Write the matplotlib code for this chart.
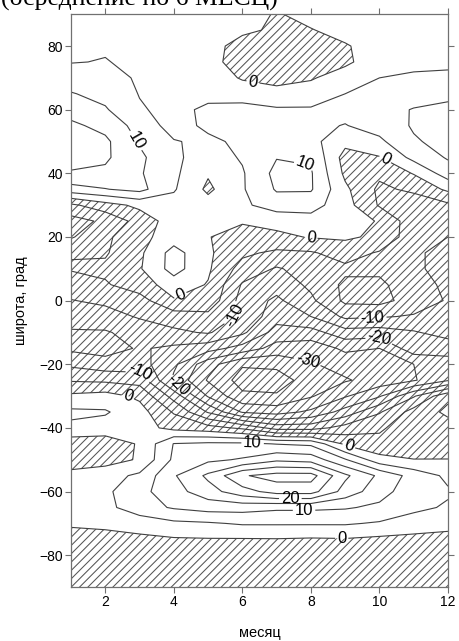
import numpy as np
import matplotlib
matplotlib.use('Agg')
import matplotlib.pyplot as plt

plt.rcParams['font.family'] = ['Liberation Sans', 'DejaVu Sans']
plt.rcParams['hatch.color'] = '#555555'
plt.rcParams['hatch.linewidth'] = 0.75

months = np.arange(1, 13)
lats = np.arange(90, -91, -5)

# anomaly values, rows = latitude 90 .. -90, cols = months 1..12
vals = [
    [3, 3, 3, 3, 3, 2.5, -0.5, 2, 3, 3, 3, 3],                          # 90
    [4, 4, 4, 3, 2.5, 1, -0.8, -0.3, 2, 3, 3, 3],                       # 85
    [4, 4.5, 4, 3, 2, -2, -3, -3, -0.5, 2.5, 3, 3],                     # 80
    [4.8, 5.2, 4, 3, 1.5, -2, -3, -3, -1, 3, 4, 4],                     # 75
    [7.5, 6.5, 4.5, 3.5, 3, -0.5, -1, -0.5, 2.5, 5, 5.6, 6],            # 70
    [10.3, 8.5, 4.8, 3.5, 3.5, 3, 1, 2.5, 5, 6.5, 7.5, 8.5],            # 65
    [13, 10.5, 5.5, 3.5, 6, 6.5, 5.7, 5.5, 6.5, 8, 10.3, 11.5],         # 60
    [16, 13.5, 8, 3, 6, 7, 7.5, 6, 4.8, 7, 10.5, 12.5],                 # 55
    [17, 16, 9.5, 5.3, 4, 6, 8, 6.5, 1.5, 4, 9.5, 11.5],                # 50
    [17, 15.8, 11, 6, 2.5, 5.5, 9.8, 9.5, -2, -0.3, 6.5, 10.5],         # 45
    [14.5, 14, 10.5, 6, 0.5, 4.5, 11.5, 10.5, -1, -4, 0.3, 7.5],        # 40
    [8, 9.8, 11.5, 5.5, -1, 4.5, 10.5, 10.5, 1, -6, -4, 1],             # 35
    [-6, -2, 1.2, 3, 2, 4, 7.5, 7, 2, -5.5, -8, -6],                    # 30
    [-12, -9, -3, 2.5, 0.5, 0.5, 1.5, 3, 3, -0.5, -8, -9],              # 25
    [-10.5, -6, -1.5, 2.5, 0.2, -2, -1, 0.3, 0.8, -1, -8, -10],         # 20
    [-5.3, -5.5, -1, 7, 0.8, -4, -6, -5.5, -3, -5.5, -9, -12],          # 15
    [-4.6, -4, -0.5, 7, 0.7, -7, -10.5, -8, -6, -6, -9, -12],           # 10
    [-7.5, -5.5, -2.5, 2.5, -0.3, -10.5, -13, -9, -4, -4, -8, -11],     # 5
    [-10.2, -9, -7, -0.5, -1.5, -12, -16, -11, -4, -3.5, -7, -10.5],    # 0
    [-13, -12, -9.5, -7.5, -6.5, -11, -18, -15, -9, -9.5, -10.5, -11],  # -5
    [-15.5, -15.5, -13, -11, -9.5, -14, -22, -22, -17, -17.5, -15.5, -13],  # -10
    [-16, -17, -14.5, -16, -18, -22, -27, -28, -24, -25, -17, -18],     # -15
    [-11, -13, -13, -19, -28, -34.5, -34, -30.5, -28, -27, -25, -22],   # -20
    [-5.5, -6, -7, -21, -30.5, -37, -37, -33, -30.5, -28, -25.5, -20.5],  # -25
    [1, 2, -1, -12, -25.5, -34, -34.5, -30.5, -25.5, -20.5, -10.5, -1],   # -30
    [6, 5.5, 2, -5.5, -15.5, -25.5, -27, -24, -18, -10.5, -3, 1],       # -35
    [4, 3, 2, -1.5, -3, -6, -12, -12, -8, -5.5, -3, -2],                # -40
    [-3, -3, 0.5, 10.2, 11, 11, 9.8, 9, -1, -4, -4.5, -4],              # -45
    [-2.5, -2, 0.5, 11, 14, 15.5, 19, 18, 10.5, 2, 0.2, 0.2],           # -50
    [1.5, 3, 6, 14.5, 21, 29.5, 32, 32, 21, 14, 8, 4],                  # -55
    [3.5, 4, 8.5, 13, 18, 23, 27, 27, 18, 12, 7, 5.5],                  # -60
    [3, 3.5, 8, 10.5, 12, 12, 11, 11, 10.5, 9, 6, 4.5],                 # -65
    [0.5, 1, 2, 4, 4.5, 5.5, 5.5, 5.5, 5.5, 4.5, 3, 1.5],               # -70
    [-1.5, -1.5, -1, -0.5, -0.3, -0.3, -0.2, -0.5, -0.3, -1, -1.5, -1.5],  # -75
    [-2.5, -2.5, -2.5, -2, -2, -2, -2, -2, -2, -2.5, -2.5, -2.5],       # -80
    [-3, -3, -3, -3, -3, -3, -3, -3, -3, -3, -3, -3],                   # -85
    [-3, -3, -3, -3, -3, -3, -3, -3, -3, -3, -3, -3],                   # -90
]

levels = np.arange(-35, 35, 5)
xticks = [2, 4, 6, 8, 10, 12]
yticks = [-80, -60, -40, -20, 0, 20, 40, 60, 80]

# where the contour labels sit (level -> list of (month, latitude))
label_spots = {
    0: [(6.3, 68), (10.2, 45), (8.0, 19.5), (4.2, 1.5), (2.7, -28.5), (9.1, -46), (8.9, -74.5)],
    10: [(2.7, 49), (7.8, 41), (6.3, -44.5), (7.8, -65.5)],
    -10: [(5.7, -4.5), (9.8, -5.5), (3.0, -22.5)],
    -20: [(10.0, -11.5), (4.3, -24)],
    -30: [(7.9, -19)],
    20: [(7.4, -61)],
}

Z = np.array(vals, dtype=float)
X, Y = np.meshgrid(months, lats)

fig = plt.figure(figsize=(4.59, 6.41), dpi=100)
ax = fig.add_axes([0.1547, 0.0842, 0.8213, 0.8936])

ax.contourf(X, Y, Z, levels=[-100, 0], colors='none', hatches=['////'])

for lev in levels:
    cs = ax.contour(X, Y, Z, levels=[lev], colors='#404040', linewidths=0.8,
                    linestyles='solid')
    spots = label_spots.get(int(lev))
    if spots:
        ax.clabel(cs, manual=spots, inline=True, fmt='%d',
                  fontsize=12, colors='black', inline_spacing=2)

ax.set_xlim(1, 12)
ax.set_ylim(-90, 90)
ax.set_xticks(xticks)
ax.set_yticks(yticks)
ax.tick_params(direction='out', length=4, width=0.8, color='#707070',
               top=True, right=True, labelsize=10, pad=2)
for s in ax.spines.values():
    s.set_color('#707070')
    s.set_linewidth(0.9)

ax.set_ylabel('широта, град', fontsize=10.5)
ax.yaxis.set_label_coords(-0.115, 0.5)
ax.set_xlabel('месяц', fontsize=10.5)
ax.xaxis.set_label_coords(0.5, -0.068)

fig.text(0.003, 0.991, '(осреднение по 6 МЕСЦ)', family='Liberation Serif',
         fontsize=18.5, va='baseline', ha='left')

fig.savefig('out.png', dpi=100)
